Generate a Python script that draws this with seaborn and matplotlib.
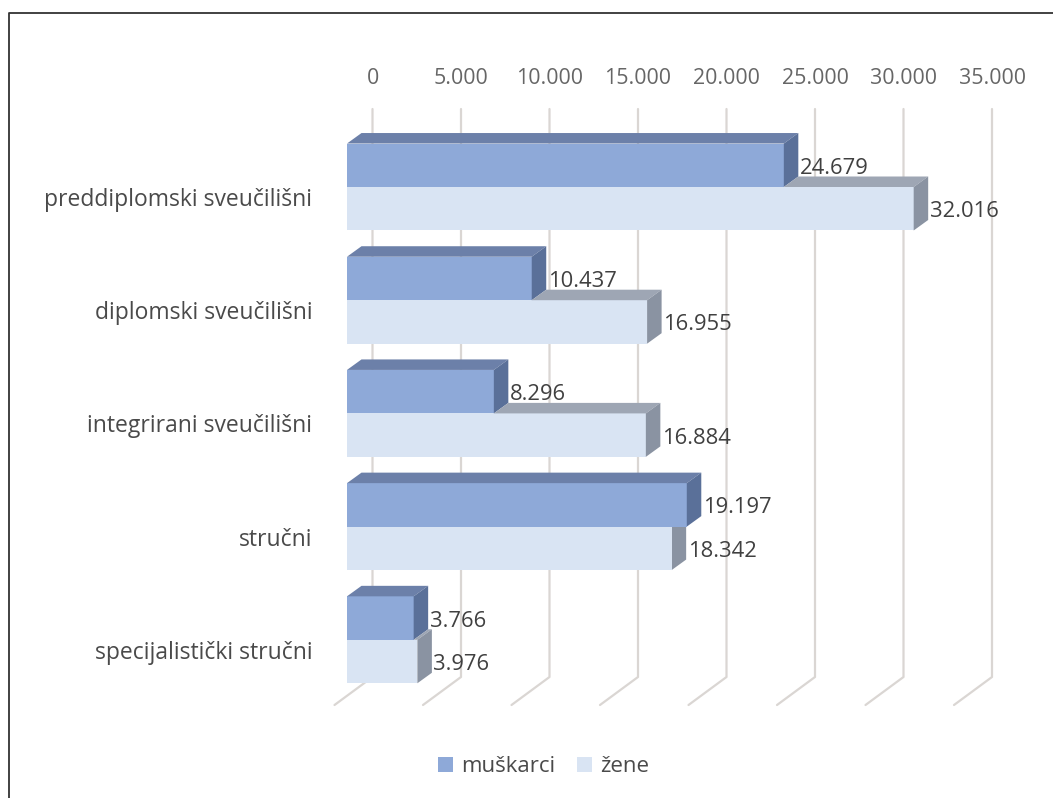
import numpy as np
import pandas as pd
import matplotlib
matplotlib.use("Agg")
import matplotlib.pyplot as plt
import matplotlib.transforms as mtrans
from matplotlib.lines import Line2D
from matplotlib.patches import Polygon
import seaborn as sns

# -----------------------------
# Data
# -----------------------------
categories = ["preddiplomski sveučilišni", "diplomski sveučilišni", "integrirani sveučilišni",
              "stručni", "specijalistički stručni"]
muskarci = [24679, 10437, 8296, 19197, 3766]
zene = [32016, 16955, 16884, 18342, 3976]
x_ticks = [0, 5000, 10000, 15000, 20000, 25000, 30000, 35000]

df = pd.DataFrame({
    "vrsta": categories * 2,
    "spol": ["muškarci"] * 5 + ["žene"] * 5,
    "broj": muskarci + zene,
})


def dotted(v):
    return f"{v:,}".replace(",", ".")


# -----------------------------
# Layout (pixels of the 1053x798 figure)
# -----------------------------
W, H = 1053, 798
sns.set_theme(style="white")
plt.rcParams["font.family"] = ["Open Sans", "DejaVu Sans"]

fig = plt.figure(figsize=(W / 100, H / 100), dpi=100, facecolor="white")
left, right, top, bottom = 347, 966.5, 130.4, 696.4
ax = fig.add_axes([left / W, 1 - bottom / H, (right - left) / W, (bottom - top) / H])

sns.barplot(data=df, y="vrsta", x="broj", hue="spol", ax=ax, width=0.768, gap=0,
            palette={"muškarci": "#8EA9D8", "žene": "#D9E4F3"}, saturation=1,
            linewidth=0, zorder=3)

ax.set_xlim(0, 35000)
ax.set_ylim(4.5, -0.5)
ax.set_xlabel("")
ax.set_ylabel("")
sns.despine(ax=ax, left=True, bottom=True)
ax.patch.set_alpha(0)

# pixel -> data scales for the fake 3D depth
sx = (right - left) / 35000
sy = (bottom - top) / 5
bar_dx, bar_dy = 14.5 / sx, 10.5 / sy

# -----------------------------
# Gridlines on the floor and back wall
# -----------------------------
grid_c = "#DAD6D3"
floor_front = 4.5 + 8.6 / sy
floor_back = 4.5 - 19.4 / sy
wall_top = -0.5 - 21.4 / sy
for v in x_ticks:
    xs = [v - 12.5 / sx, v + 25.5 / sx, v + 25.5 / sx]
    ax.plot(xs, [floor_front, floor_back, wall_top], color=grid_c, lw=1.6,
            clip_on=False, zorder=1)

# -----------------------------
# Bar depth faces
# -----------------------------
m_bars, z_bars = ax.containers[0], ax.containers[1]
for m, z in zip(m_bars, z_bars):
    mv, zv = m.get_width(), z.get_width()
    my0, my1 = m.get_y(), m.get_y() + m.get_height()
    zy0, zy1 = z.get_y(), z.get_y() + z.get_height()

    # muskarci: top and side
    ax.add_patch(Polygon([(0, my0), (bar_dx, my0 - bar_dy), (mv + bar_dx, my0 - bar_dy), (mv, my0)],
                         fc="#6C80A9", ec="none", zorder=4, clip_on=False))
    ax.add_patch(Polygon([(mv, my0), (mv + bar_dx, my0 - bar_dy), (mv + bar_dx, my1 - bar_dy), (mv, my1)],
                         fc="#5A7099", ec="none", zorder=4, clip_on=False))

    # zene: top only shows past the end of the muskarci bar
    if zv > mv:
        ax.add_patch(Polygon([(mv, zy0), (mv + bar_dx, zy0 - bar_dy), (zv + bar_dx, zy0 - bar_dy), (zv, zy0)],
                             fc="#9EA6B4", ec="none", zorder=4, clip_on=False))
    ax.add_patch(Polygon([(zv, zy0), (zv + bar_dx, zy0 - bar_dy), (zv + bar_dx, zy1 - bar_dy), (zv, zy1)],
                         fc="#8A93A2", ec="none", zorder=5 if zv > mv else 2, clip_on=False))

    # data labels
    for bar, val in ((m, mv), (z, zv)):
        ax.text(val + 16 / sx, bar.get_y() + bar.get_height() / 2 + 3 / sy, dotted(int(val)),
                ha="left", va="center", fontsize=15.8, color="#404040", zorder=6)

# -----------------------------
# Ticks
# -----------------------------
ax.xaxis.tick_top()
ax.set_xticks(x_ticks)
ax.set_xticklabels([dotted(v) for v in x_ticks])
ax.tick_params(axis="x", length=0, pad=30, labelsize=15.4, labelcolor="#666666")
ax.tick_params(axis="y", length=0, pad=25, labelsize=16.5, labelcolor="#4A4A4A")
shift_x = mtrans.ScaledTranslation(25.5 / 100, 0, fig.dpi_scale_trans)
shift_y = mtrans.ScaledTranslation(0, -10 / 100, fig.dpi_scale_trans)
for lab in ax.get_xticklabels():
    lab.set_transform(lab.get_transform() + shift_x)
for lab in ax.get_yticklabels():
    lab.set_transform(lab.get_transform() + shift_y)

# -----------------------------
# Legend
# -----------------------------
sns.move_legend(ax, "center", bbox_to_anchor=(543.5 / W, 1 - 767 / H),
                bbox_transform=fig.transFigure, ncol=2, title=None, frameon=False,
                fontsize=16, labelcolor="#4A4A4A", handlelength=0.68, handleheight=0.63,
                handletextpad=0.36, columnspacing=1.0)

# outer frame: only the top and left edges are inside the picture
frame_x, frame_y = 8.5 / W, 1 - 13 / H
fig.add_artist(Line2D([frame_x, frame_x, 1], [0, frame_y, frame_y], transform=fig.transFigure,
                      color="#333333", lw=1.3))

plt.savefig("out.png", dpi=100)
